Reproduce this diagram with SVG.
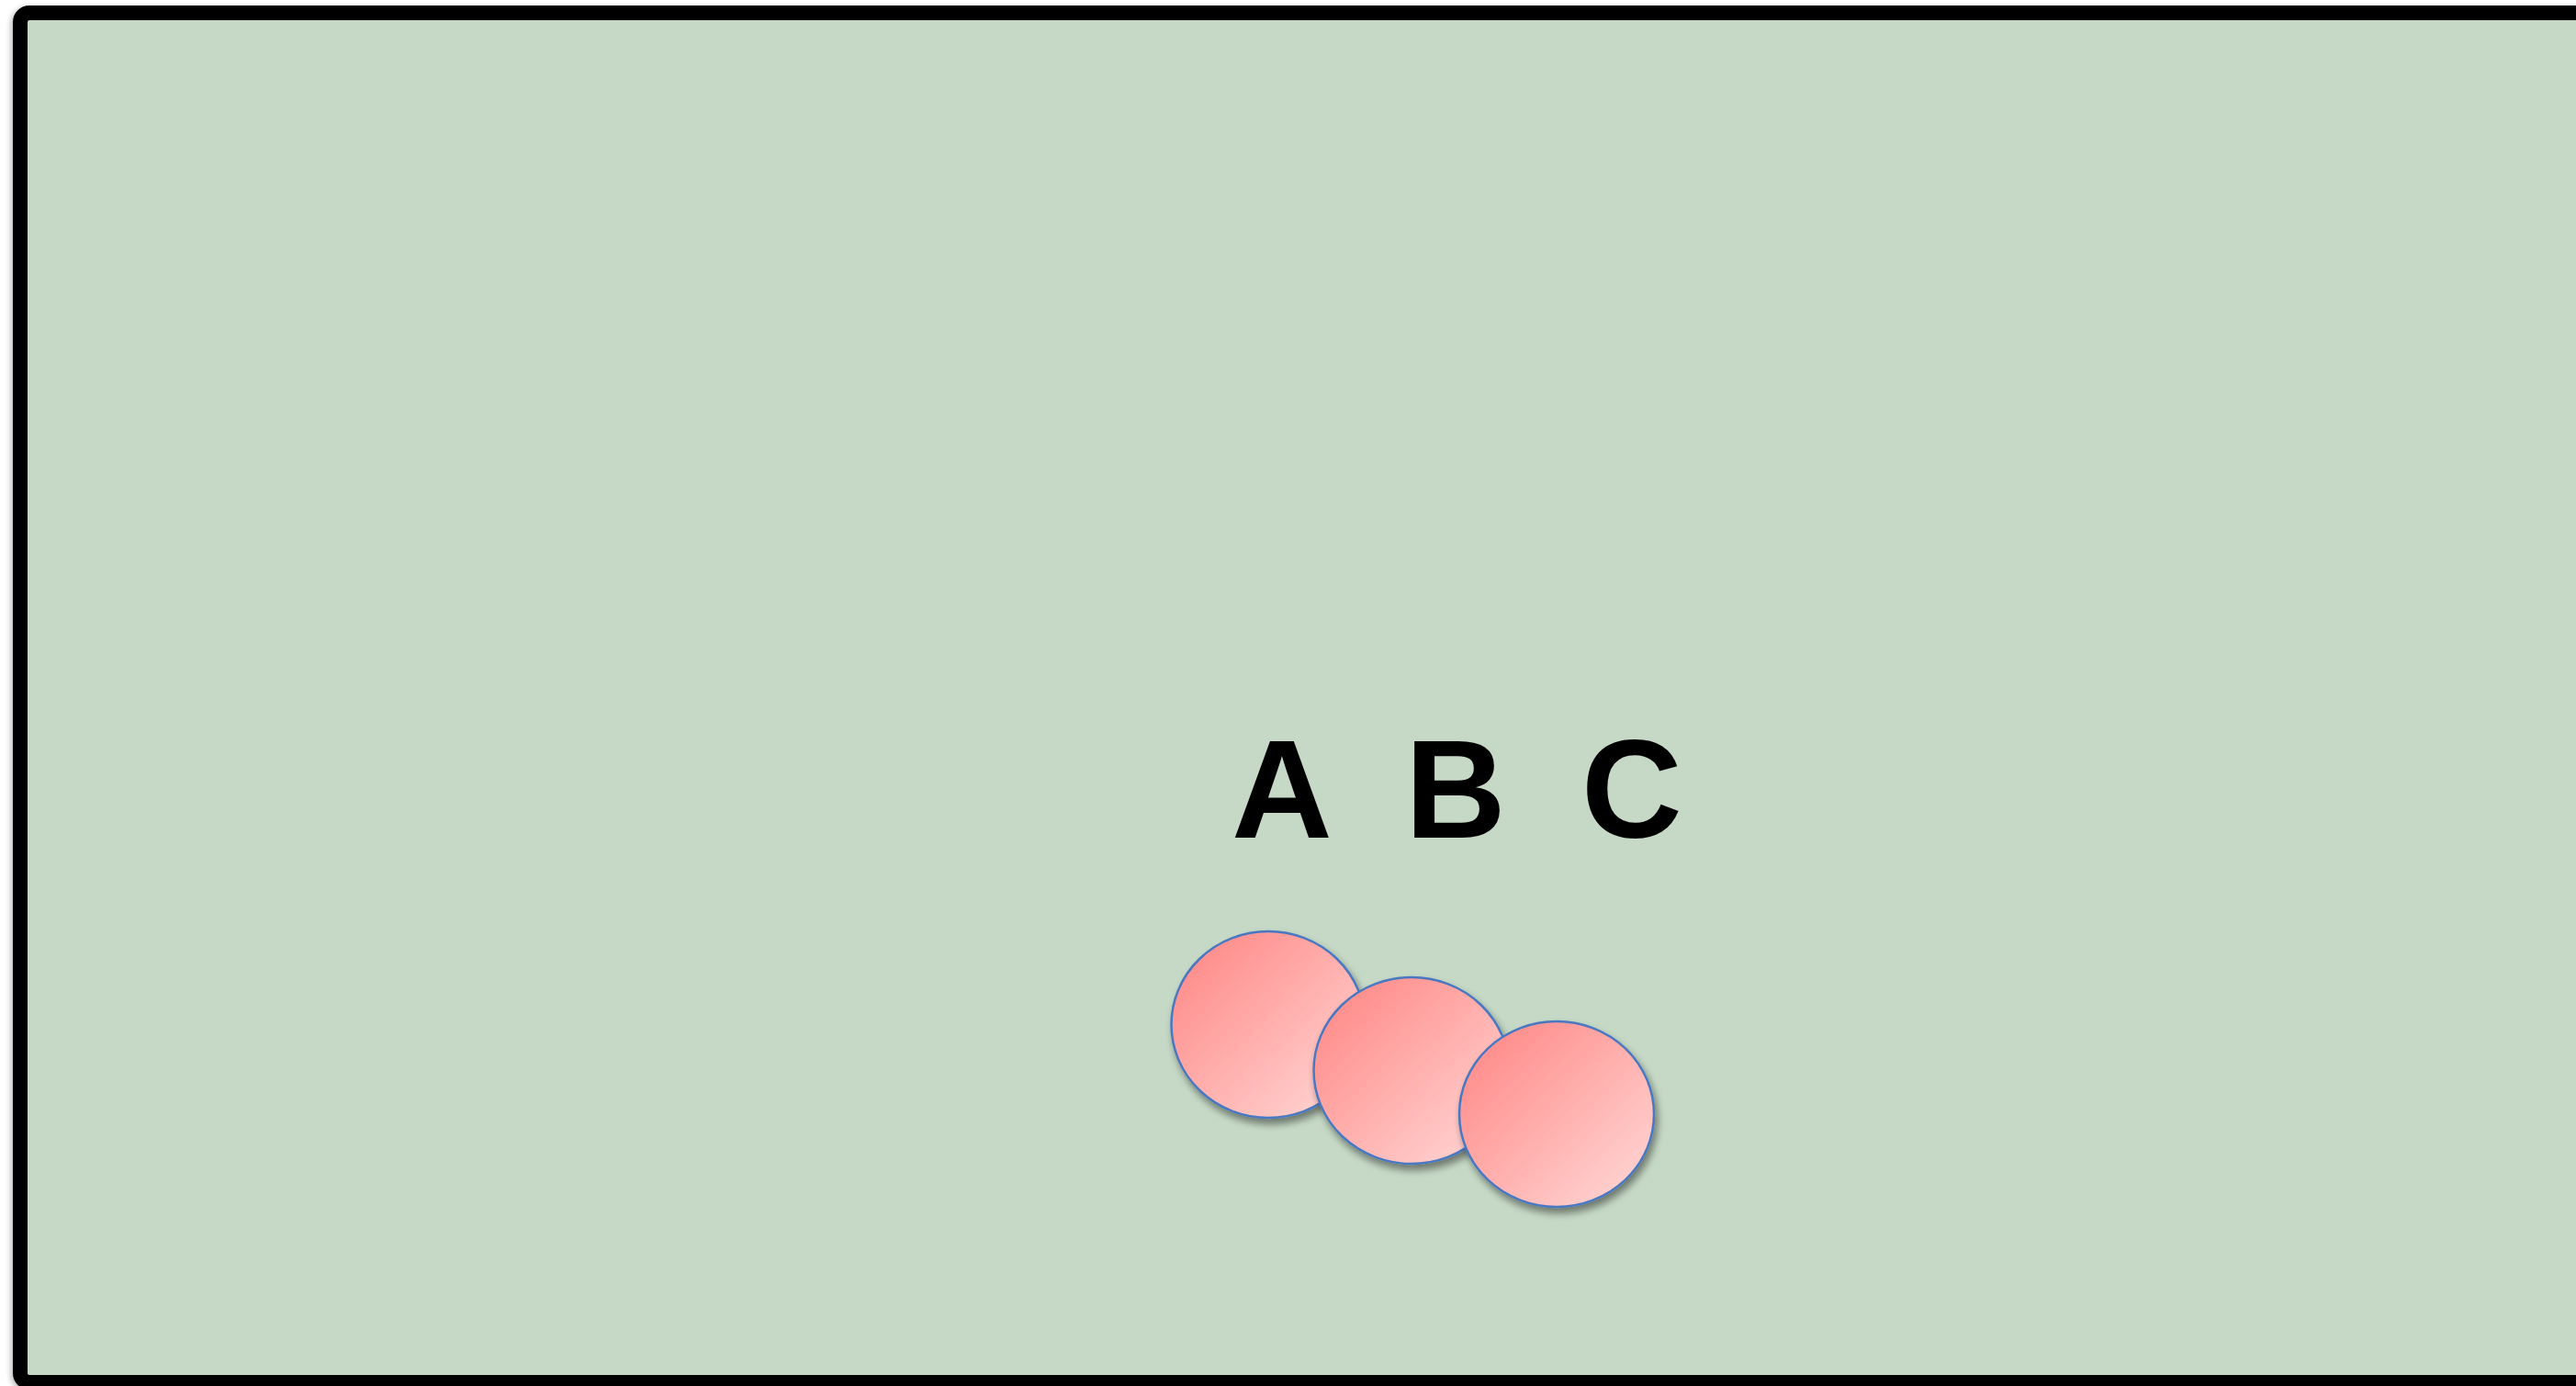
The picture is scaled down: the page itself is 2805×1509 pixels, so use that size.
<svg xmlns="http://www.w3.org/2000/svg" width="2805" height="1509" viewBox="0 0 2805 1509">
  <defs>
    <linearGradient id="pink" x1="0.1" y1="0.15" x2="0.85" y2="0.9">
      <stop offset="0" stop-color="#FF8E8C"/>
      <stop offset="1" stop-color="#FFD0CE"/>
    </linearGradient>
    <filter id="shadow" x="-20%" y="-20%" width="150%" height="150%">
      <feGaussianBlur in="SourceAlpha" stdDeviation="4"/>
      <feOffset dx="3" dy="6" result="b"/>
      <feComponentTransfer><feFuncA type="linear" slope="0.45"/></feComponentTransfer>
      <feMerge><feMergeNode/><feMergeNode in="SourceGraphic"/></feMerge>
    </filter>
    <filter id="frameShadow" x="-5%" y="-5%" width="110%" height="110%">
      <feGaussianBlur in="SourceAlpha" stdDeviation="3"/>
      <feOffset dx="-2" dy="2"/>
      <feComponentTransfer><feFuncA type="linear" slope="0.3"/></feComponentTransfer>
      <feMerge><feMergeNode/><feMergeNode in="SourceGraphic"/></feMerge>
    </filter>
  </defs>
  <style>
    .lbl { font-family: "Liberation Sans", Arial, sans-serif; font-weight: bold; font-size: 152px; fill: #000; }
    .disc { fill: url(#pink); stroke: #4A78C2; stroke-width: 2.5; filter: url(#shadow); }
  </style>
  <rect width="2805" height="1509" fill="#FFFFFF"/>
  <g id="frame">
    <rect x="22" y="14" width="2800" height="1491" rx="10" fill="#C6D9C6" stroke="#000" stroke-width="16" filter="url(#frameShadow)"/>
  </g>
  <g id="labels">
    <g id="label-A"><text class="lbl" x="1341" y="912">A</text></g>
    <g id="label-B"><text class="lbl" x="1530" y="912">B</text></g>
    <g id="label-C"><text class="lbl" x="1722" y="912">C</text></g>
  </g>
  <g id="connectors"></g>
  <g id="disc-1"><ellipse class="disc" cx="1381" cy="1115.5" rx="105.5" ry="101.5"/></g>
  <g id="disc-2"><ellipse class="disc" cx="1537" cy="1165.5" rx="106.5" ry="101.5"/></g>
  <g id="disc-3"><ellipse class="disc" cx="1695" cy="1213" rx="106" ry="101"/></g>
</svg>
